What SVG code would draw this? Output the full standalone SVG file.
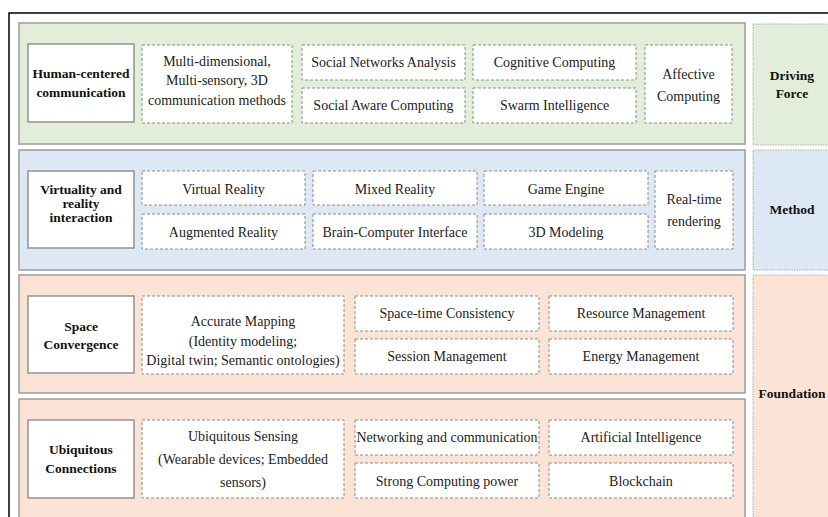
<svg xmlns="http://www.w3.org/2000/svg" width="828" height="517" viewBox="0 0 828 517">
<style>
.t{font-size:14px;fill:#222}
.b{font-weight:bold;fill:#111;font-size:13.5px}
.panel{stroke:#9a9a9a;stroke-width:1.5}
.side{stroke:#b0b0b0;stroke-width:1;stroke-dasharray:1.5 1}
.g{fill:#e2eed9}.bl{fill:#dde8f5}.o{fill:#fbe4d5}
.title{fill:#fff;stroke:#8c8c8c;stroke-width:1.4}
.item{fill:#fff;stroke:#8c8c8c;stroke-width:1;stroke-dasharray:3 2}
</style>
<rect width="828" height="517" fill="#fff"/>
<path d="M9,518 V13 H829" fill="none" stroke="#000" stroke-width="1.5"/>

<g id="panels">
<rect class="panel g" x="19" y="23" width="726" height="121"/>
<rect class="side g" x="753" y="24" width="80" height="121"/>
<rect class="panel bl" x="19" y="150" width="726" height="120"/>
<rect class="side bl" x="753" y="150" width="80" height="120"/>
<rect class="panel o" x="19" y="275" width="726" height="118"/>
<rect class="panel o" x="19" y="399" width="726" height="125"/>
<rect class="side o" x="753" y="275" width="80" height="250"/>
</g>

<g text-anchor="middle">
<g id="driving-force"><text font-family="Liberation Serif" class="b" x="792" y="80">Driving</text><text font-family="Liberation Serif" class="b" x="792" y="98">Force</text></g>
<g id="method"><text font-family="Liberation Serif" class="b" x="792" y="214">Method</text></g>
<g id="foundation"><text font-family="Liberation Serif" class="b" x="792" y="398">Foundation</text></g>

<g id="human-centered"><rect class="title" x="28" y="44" width="106" height="78"/><text font-family="Liberation Serif" class="b" x="81" y="78">Human-centered</text><text font-family="Liberation Serif" class="b" x="81" y="97">communication</text></g>
<g id="multi-dimensional"><rect class="item" x="142" y="45" width="150" height="78"/><text font-family="Liberation Serif" class="t" x="217" y="66">Multi-dimensional,</text><text font-family="Liberation Serif" class="t" x="217" y="85">Multi-sensory, 3D</text><text font-family="Liberation Serif" class="t" x="217" y="105">communication methods</text></g>
<g id="sna"><rect class="item" x="302" y="45" width="163" height="35"/><text font-family="Liberation Serif" class="t" x="383.5" y="67">Social Networks Analysis</text></g>
<g id="sac"><rect class="item" x="302" y="88" width="163" height="35"/><text font-family="Liberation Serif" class="t" x="383.5" y="110">Social Aware Computing</text></g>
<g id="cognitive"><rect class="item" x="473" y="45" width="163" height="35"/><text font-family="Liberation Serif" class="t" x="554.5" y="67">Cognitive Computing</text></g>
<g id="swarm"><rect class="item" x="473" y="88" width="163" height="35"/><text font-family="Liberation Serif" class="t" x="554.5" y="110">Swarm Intelligence</text></g>
<g id="affective"><rect class="item" x="645" y="45" width="87" height="78"/><text font-family="Liberation Serif" class="t" x="688.5" y="79">Affective</text><text font-family="Liberation Serif" class="t" x="688.5" y="101">Computing</text></g>

<g id="virtuality"><rect class="title" x="28" y="171" width="106" height="77"/><text font-family="Liberation Serif" class="b" x="81" y="194">Virtuality and</text><text font-family="Liberation Serif" class="b" x="81" y="208">reality</text><text font-family="Liberation Serif" class="b" x="81" y="222">interaction</text></g>
<g id="vr"><rect class="item" x="142" y="171" width="163" height="34"/><text font-family="Liberation Serif" class="t" x="223.5" y="194">Virtual Reality</text></g>
<g id="ar"><rect class="item" x="142" y="214" width="163" height="35"/><text font-family="Liberation Serif" class="t" x="223.5" y="237">Augmented Reality</text></g>
<g id="mr"><rect class="item" x="313" y="171" width="164" height="34"/><text font-family="Liberation Serif" class="t" x="395" y="194">Mixed Reality</text></g>
<g id="bci"><rect class="item" x="313" y="214" width="164" height="35"/><text font-family="Liberation Serif" class="t" x="395" y="237">Brain-Computer Interface</text></g>
<g id="game"><rect class="item" x="484" y="171" width="164" height="34"/><text font-family="Liberation Serif" class="t" x="566" y="194">Game Engine</text></g>
<g id="modeling"><rect class="item" x="484" y="214" width="164" height="35"/><text font-family="Liberation Serif" class="t" x="566" y="237">3D Modeling</text></g>
<g id="realtime"><rect class="item" x="655" y="171" width="78" height="78"/><text font-family="Liberation Serif" class="t" x="694" y="204">Real-time</text><text font-family="Liberation Serif" class="t" x="694" y="226">rendering</text></g>

<g id="space"><rect class="title" x="28" y="296" width="106" height="77"/><text font-family="Liberation Serif" class="b" x="81" y="331">Space</text><text font-family="Liberation Serif" class="b" x="81" y="349">Convergence</text></g>
<g id="mapping"><rect class="item" x="142" y="296" width="202" height="78"/><text font-family="Liberation Serif" class="t" x="243" y="326">Accurate Mapping</text><text font-family="Liberation Serif" class="t" x="243" y="346">(Identity modeling;</text><text font-family="Liberation Serif" class="t" x="243" y="365">Digital twin; Semantic ontologies)</text></g>
<g id="stc"><rect class="item" x="355" y="296" width="184" height="35"/><text font-family="Liberation Serif" class="t" x="447" y="318">Space-time Consistency</text></g>
<g id="session"><rect class="item" x="355" y="339" width="184" height="35"/><text font-family="Liberation Serif" class="t" x="447" y="361">Session Management</text></g>
<g id="resource"><rect class="item" x="549" y="296" width="184" height="35"/><text font-family="Liberation Serif" class="t" x="641" y="318">Resource Management</text></g>
<g id="energy"><rect class="item" x="549" y="339" width="184" height="35"/><text font-family="Liberation Serif" class="t" x="641" y="361">Energy Management</text></g>

<g id="ubiquitous"><rect class="title" x="28" y="420" width="106" height="78"/><text font-family="Liberation Serif" class="b" x="81" y="454">Ubiquitous</text><text font-family="Liberation Serif" class="b" x="81" y="473">Connections</text></g>
<g id="sensing"><rect class="item" x="142" y="420" width="202" height="78"/><text font-family="Liberation Serif" class="t" x="243" y="441">Ubiquitous Sensing</text><text font-family="Liberation Serif" class="t" x="243" y="464">(Wearable devices; Embedded</text><text font-family="Liberation Serif" class="t" x="243" y="487">sensors)</text></g>
<g id="networking"><rect class="item" x="355" y="420" width="184" height="35"/><text font-family="Liberation Serif" class="t" x="447" y="442">Networking and communication</text></g>
<g id="computing"><rect class="item" x="355" y="463" width="184" height="35"/><text font-family="Liberation Serif" class="t" x="447" y="486">Strong Computing power</text></g>
<g id="ai"><rect class="item" x="549" y="420" width="184" height="35"/><text font-family="Liberation Serif" class="t" x="641" y="442">Artificial Intelligence</text></g>
<g id="blockchain"><rect class="item" x="549" y="463" width="184" height="35"/><text font-family="Liberation Serif" class="t" x="641" y="486">Blockchain</text></g>
</g>

<g id="connectors"/>
</svg>
